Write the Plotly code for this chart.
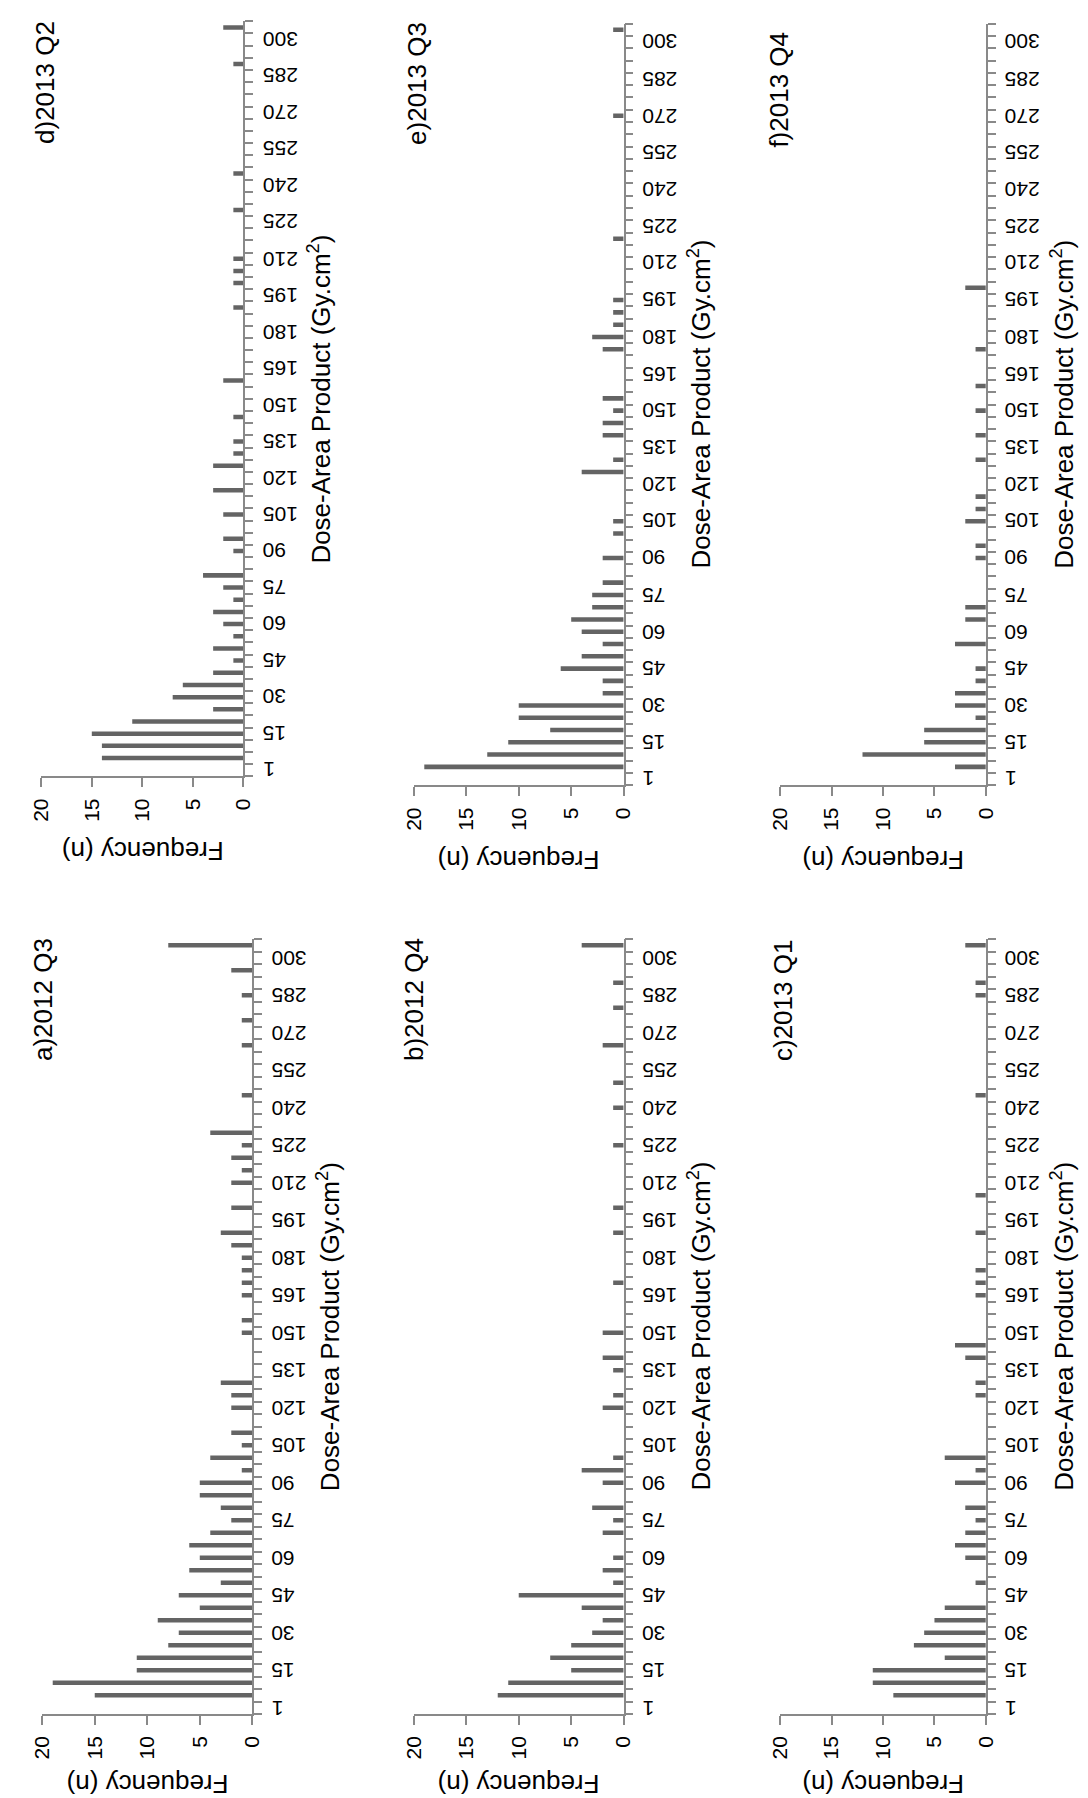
import plotly.graph_objects as go

W, H = 1088, 1798

# ---------------- data ----------------
CATEGORIES = ["1", "5", "10", "15", "20", "25", "30", "35", "40", "45", "50", "55", "60",
              "65", "70", "75", "80", "85", "90", "95", "100", "105", "110", "115", "120",
              "125", "130", "135", "140", "145", "150", "155", "160", "165", "170", "175",
              "180", "185", "190", "195", "200", "205", "210", "215", "220", "225", "230",
              "235", "240", "245", "250", "255", "260", "265", "270", "275", "280", "285",
              "290", "295", "300", "More"]
TICK_LABELS = ["1", "15", "30", "45", "60", "75", "90", "105", "120", "135", "150", "165",
               "180", "195", "210", "225", "240", "255", "270", "285", "300"]
FREQ_TICKS = [0, 5, 10, 15, 20]

PANEL_TITLES = {
    "a": "a)2012 Q3", "b": "b)2012 Q4", "c": "c)2013 Q1",
    "d": "d)2013 Q2", "e": "e)2013 Q3", "f": "f)2013 Q4",
}

freq_a = [0, 15, 19, 11, 11, 8, 7, 9, 5, 7, 3, 6, 5, 6, 4, 2, 3, 5, 5, 1, 4, 1, 2, 0, 2, 2,
          3, 0, 0, 0, 1, 1, 0, 1, 1, 1, 1, 2, 3, 0, 2, 0, 2, 1, 2, 1, 4, 0, 0, 1, 0, 0, 0, 1,
          0, 1, 0, 1, 0, 2, 0, 8]
freq_b = [0, 12, 11, 5, 7, 5, 3, 2, 4, 10, 1, 2, 1, 0, 2, 1, 3, 0, 2, 4, 1, 0, 0, 0, 2, 1,
          0, 1, 2, 0, 2, 0, 0, 0, 1, 0, 0, 0, 1, 0, 1, 0, 0, 0, 0, 1, 0, 0, 1, 0, 1, 0, 0, 2,
          0, 0, 1, 0, 1, 0, 0, 4]
freq_c = [0, 9, 11, 11, 4, 7, 6, 5, 4, 0, 1, 0, 2, 3, 2, 1, 2, 0, 3, 1, 4, 0, 0, 0, 0, 1,
          1, 0, 2, 3, 0, 0, 0, 1, 1, 1, 0, 0, 1, 0, 0, 1, 0, 0, 0, 0, 0, 0, 0, 1, 0, 0, 0, 0,
          0, 0, 0, 1, 1, 0, 0, 2]
freq_d = [0, 14, 14, 15, 11, 3, 7, 6, 3, 1, 3, 1, 2, 3, 1, 2, 4, 0, 1, 2, 0, 2, 0, 3, 0, 3,
          1, 1, 0, 1, 0, 0, 2, 0, 0, 0, 0, 0, 1, 0, 1, 1, 1, 0, 0, 0, 1, 0, 0, 1, 0, 0, 0, 0,
          0, 0, 0, 0, 1, 0, 0, 2]
freq_e = [0, 19, 13, 11, 7, 10, 10, 2, 2, 6, 4, 2, 4, 5, 3, 3, 2, 0, 2, 0, 1, 1, 0, 0, 0, 4,
          1, 0, 2, 2, 1, 2, 0, 0, 0, 2, 3, 1, 1, 1, 0, 0, 0, 0, 1, 0, 0, 0, 0, 0, 0, 0, 0, 0,
          1, 0, 0, 0, 0, 0, 0, 1]
freq_f = [0, 3, 12, 6, 6, 1, 3, 3, 1, 1, 0, 3, 0, 2, 2, 0, 0, 0, 1, 1, 0, 2, 1, 1, 0, 0,
          1, 0, 1, 0, 1, 0, 1, 0, 0, 1, 0, 0, 0, 0, 2, 0, 0, 0, 0, 0, 0, 0, 0, 0, 0, 0, 0, 0,
          0, 0, 0, 0, 0, 0, 0, 0]

SERIES = {"a": freq_a, "b": freq_b, "c": freq_c, "d": freq_d, "e": freq_e, "f": freq_f}
for k, v in SERIES.items():
    assert len(v) == len(CATEGORIES), (k, len(v))

# ---------------- layout (pixels) ----------------
# plot area: left(freq=20), right(freq=0), top, bottom
GEOM = {
    "d": (21.7, 228.3, 13.3, 768.3),
    "e": (402.3, 616.7, 15.7, 777.3),
    "f": (776.7, 986.7, 15.7, 777.3),
    "a": (22.7, 237.3, 931.0, 1706.0),
    "b": (402.3, 616.7, 931.0, 1706.0),
    "c": (776.7, 986.7, 931.0, 1706.0),
}
TITLE_POS = {  # (x centre, y of text start)
    "d": (25, 138), "e": (405, 139), "f": (775, 142),
    "a": (23, 1055), "b": (402, 1055), "c": (779, 1055),
}
FREQ_TITLE_OFFSET = {"a": 70, "b": 70, "c": 70, "d": 74, "e": 74, "f": 74}

BAR_COLOR = "#646464"
AXIS_COLOR = "#898989"
TEXT_COLOR = "#000000"
FONT = "Liberation Sans, Arial, sans-serif"
TICK_SIZE = 21
TITLE_SIZE = 26

fig = go.Figure()
annotations = []
positions = list(range(len(CATEGORIES)))

for n, key in enumerate(["a", "b", "c", "d", "e", "f"], start=1):
    xa = "x" if n == 1 else f"x{n}"
    ya = "y" if n == 1 else f"y{n}"
    x0, x1, y0, y1 = GEOM[key]

    fig.add_trace(go.Bar(
        x=SERIES[key], y=positions, orientation="h", width=0.37,
        marker=dict(color=BAR_COLOR, line=dict(width=0)),
        xaxis=xa, yaxis=ya, hoverinfo="skip", showlegend=False,
    ))

    fig.layout[("xaxis" if n == 1 else f"xaxis{n}")] = dict(
        domain=[x0 / W, x1 / W], anchor=ya, range=[20, 0],
        tickmode="array", tickvals=FREQ_TICKS, ticktext=[str(t) for t in FREQ_TICKS],
        ticks="outside", ticklen=9, tickwidth=1.5, tickcolor=AXIS_COLOR,
        showline=True, linecolor=AXIS_COLOR, linewidth=1.5,
        showgrid=False, zeroline=False, tickangle=-90, ticklabelstandoff=3,
        tickfont=dict(size=TICK_SIZE, color=TEXT_COLOR, family=FONT),
        fixedrange=True,
    )
    fig.layout[("yaxis" if n == 1 else f"yaxis{n}")] = dict(
        domain=[1 - y1 / H, 1 - y0 / H], anchor=xa, side="right",
        range=[-0.5, len(CATEGORIES) - 0.5],
        showticklabels=False, ticks="",
        showline=True, linecolor=AXIS_COLOR, linewidth=1.5,
        showgrid=False, zeroline=False,
        minor=dict(tickmode="array",
                   tickvals=[i - 0.5 for i in range(len(CATEGORIES) + 1)],
                   ticks="outside", ticklen=8, tickwidth=1.5, tickcolor=AXIS_COLOR,
                   showgrid=False),
        fixedrange=True,
    )

    # category tick labels (rotated 180 degrees)
    for lab in TICK_LABELS:
        annotations.append(dict(
            text=lab, xref=f"{xa} domain", x=1, xanchor="left", xshift=17,
            yref=ya, y=CATEGORIES.index(lab), yanchor="middle",
            textangle=180, showarrow=False,
            font=dict(size=TICK_SIZE, color=TEXT_COLOR, family=FONT),
        ))

    # panel title
    tx, ty = TITLE_POS[key]
    annotations.append(dict(
        text=PANEL_TITLES[key], xref="paper", yref="paper",
        x=tx / W, y=1 - ty / H, xanchor="center", yanchor="bottom",
        textangle=-90, showarrow=False,
        font=dict(size=TITLE_SIZE, color=TEXT_COLOR, family=FONT),
    ))
    # category axis title
    annotations.append(dict(
        text="Dose-Area Product (Gy.cm<sup>2</sup>)", xref="paper", yref="paper",
        x=(x1 + 78) / W, y=1 - (y0 + y1) / 2 / H, xanchor="center", yanchor="middle",
        textangle=-90, showarrow=False,
        font=dict(size=TITLE_SIZE, color=TEXT_COLOR, family=FONT),
    ))
    # frequency axis title
    annotations.append(dict(
        text="Frequency (n)", xref="paper", yref="paper",
        x=(x0 + x1) / 2 / W, y=1 - (y1 + FREQ_TITLE_OFFSET[key]) / H,
        xanchor="center", yanchor="middle",
        textangle=180, showarrow=False,
        font=dict(size=TITLE_SIZE, color=TEXT_COLOR, family=FONT),
    ))

fig.update_layout(
    width=W, height=H, margin=dict(l=0, r=0, t=0, b=0),
    paper_bgcolor="white", plot_bgcolor="white",
    showlegend=False, bargap=0.6,
    annotations=annotations,
    font=dict(family=FONT, color=TEXT_COLOR),
)

fig.write_html("out.html")
